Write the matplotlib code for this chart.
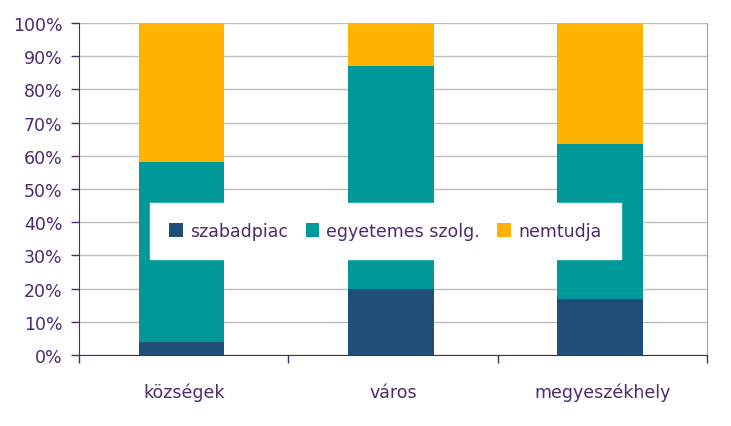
import numpy as np
import matplotlib.pyplot as plt

# data
categories = ["községek", "város", "megyeszékhely"]
szabadpiac = [4, 20, 17]
egyetemes = [54, 67, 46.5]
nem_tudja = [42, 13, 36.5]
series_names = ["szabadpiac", "egyetemes szolg.", "nemtudja"]

colors = ["#1f4e79", "#009999", "#ffb300"]
text_col = "#4b2a6e"

plt.rcParams['font.family'] = ['DejaVu Sans']

fig = plt.figure(figsize=(7.31, 4.27), dpi=100)
ax = fig.add_axes([79/731, 71/427, 628/731, 332/427])

x = np.arange(len(categories))
w = 0.41
bottom2 = np.array(szabadpiac)
bottom3 = bottom2 + np.array(egyetemes)
ax.bar(x - 0.01, szabadpiac, w, color=colors[0], label=series_names[0], zorder=3)
ax.bar(x - 0.01, egyetemes, w, bottom=bottom2, color=colors[1], label=series_names[1], zorder=3)
ax.bar(x - 0.01, nem_tudja, w, bottom=bottom3, color=colors[2], label=series_names[2], zorder=3)

ax.set_xlim(-0.5, 2.5)
ax.set_ylim(0, 100)
ax.set_yticks(np.arange(0, 101, 10))
ax.set_yticklabels([f"{v}%" for v in range(0, 101, 10)])
ax.yaxis.grid(True, color="#bdbdbd", linewidth=1, zorder=0)

ax.set_xticks(x)
ax.set_xticklabels(categories)
ax.set_xticks([-0.5, 0.5, 1.5, 2.5], minor=True)
ax.tick_params(axis='x', which='major', length=0, pad=20, labelsize=12.5, labelcolor=text_col)
ax.tick_params(axis='x', which='minor', length=6, color=text_col, width=1)
ax.tick_params(axis='y', length=6, color=text_col, width=1, labelsize=12.5, labelcolor=text_col, pad=6)

ax.spines["top"].set_visible(False)
ax.spines["right"].set_color("#a0a0a0")
ax.spines["left"].set_color(text_col)
ax.spines["bottom"].set_color(text_col)

leg = ax.legend(loc="center", bbox_to_anchor=(0.488, 0.373), ncol=3, frameon=True,
                fancybox=False, framealpha=1, edgecolor="white", fontsize=12.5,
                handlelength=0.8, handleheight=0.8, handletextpad=0.4, columnspacing=1.0,
                borderpad=1.1, borderaxespad=0)
for t in leg.get_texts():
    t.set_color(text_col)
leg.set_zorder(5)

fig.savefig("out.png", dpi=100)
